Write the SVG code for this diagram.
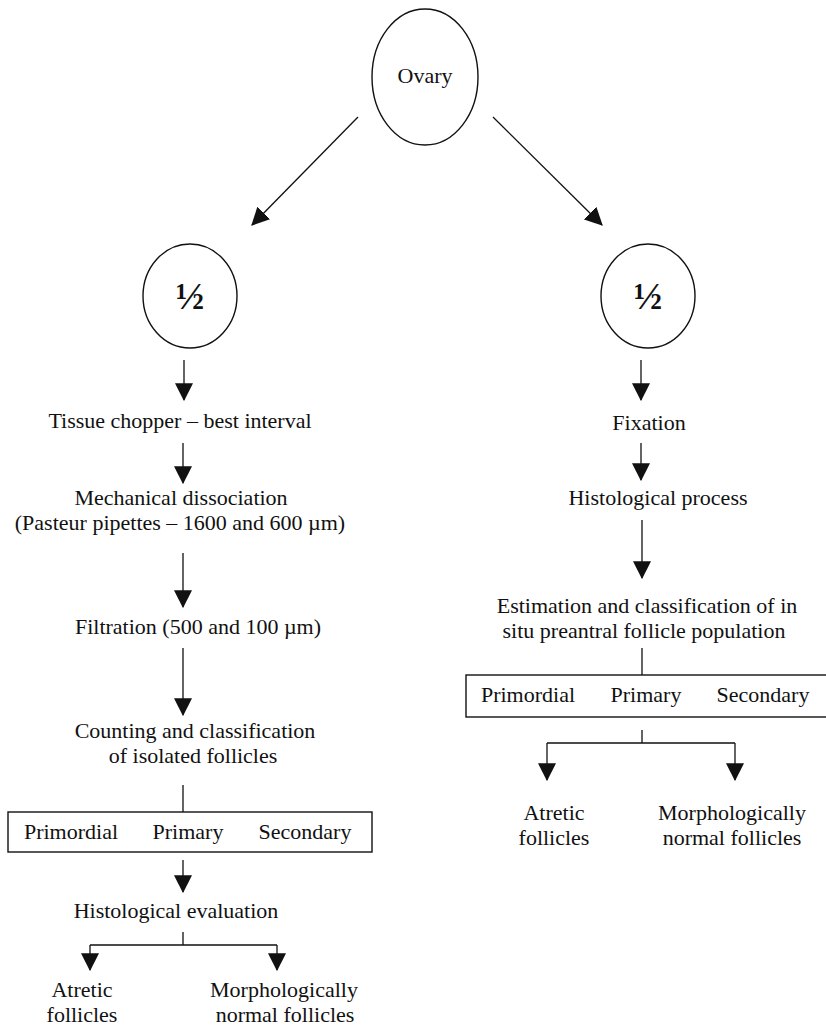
<svg xmlns="http://www.w3.org/2000/svg" width="826" height="1026" viewBox="0 0 826 1026">
<style>
text{font-family:"Liberation Serif","Times New Roman",serif;font-size:22px;fill:#111;text-anchor:middle}
.half{font-size:38px;font-weight:bold}
.shape{fill:none;stroke:#111;stroke-width:1.4}
.c line,.c path{fill:none;stroke:#111;stroke-width:1.3}
</style>
<defs>
<marker id="ah" markerUnits="userSpaceOnUse" markerWidth="18" markerHeight="18" viewBox="0 0 16 16" refX="15" refY="8" orient="auto">
<path d="M0,0 L16,8 L0,16 Z" fill="#111"/>
</marker>
</defs>
<rect width="826" height="1026" fill="#fff"/>
<g id="ovary"><ellipse class="shape" cx="425" cy="77" rx="53" ry="68"/><text x="425" y="83">Ovary</text></g>
<g id="half-left"><ellipse class="shape" cx="190" cy="296" rx="47" ry="52"/><text class="half" x="190" y="309">½</text></g>
<g id="half-right"><ellipse class="shape" cx="648" cy="296" rx="47" ry="52"/><text class="half" x="648" y="309">½</text></g>
<g id="chopper"><text x="180" y="428">Tissue chopper – best interval</text></g>
<g id="mech"><text x="181" y="505">Mechanical dissociation</text><text x="180" y="530">(Pasteur pipettes – 1600 and 600 µm)</text></g>
<g id="filtration"><text x="198" y="634">Filtration (500 and 100 µm)</text></g>
<g id="counting"><text x="195" y="738">Counting and classification</text><text x="193" y="763">of isolated follicles</text></g>
<g id="box-left"><rect class="shape" x="8" y="812" width="364" height="40"/><text x="71" y="839">Primordial</text><text x="188" y="839">Primary</text><text x="305" y="839">Secondary</text></g>
<g id="histeval"><text x="176" y="918">Histological evaluation</text></g>
<g id="atretic-left"><text x="82" y="997">Atretic</text><text x="82" y="1022">follicles</text></g>
<g id="normal-left"><text x="284" y="997">Morphologically</text><text x="285" y="1022">normal follicles</text></g>
<g id="fixation"><text x="649" y="430">Fixation</text></g>
<g id="histproc"><text x="658" y="505">Histological process</text></g>
<g id="estimation"><text x="647" y="613">Estimation and classification of in</text><text x="644" y="638">situ preantral follicle population</text></g>
<g id="box-right"><rect class="shape" x="466" y="675" width="362" height="42"/><text x="528" y="702">Primordial</text><text x="646" y="702">Primary</text><text x="763" y="702">Secondary</text></g>
<g id="atretic-right"><text x="554" y="820">Atretic</text><text x="554" y="845">follicles</text></g>
<g id="normal-right"><text x="732" y="820">Morphologically</text><text x="732" y="845">normal follicles</text></g>
<g id="connectors" class="c">
<line x1="358" y1="117" x2="252" y2="225" marker-end="url(#ah)"/>
<line x1="493" y1="117" x2="602" y2="225" marker-end="url(#ah)"/>
<line x1="184" y1="360" x2="184" y2="400" marker-end="url(#ah)"/>
<line x1="183" y1="443" x2="183" y2="483" marker-end="url(#ah)"/>
<line x1="183" y1="553" x2="183" y2="607" marker-end="url(#ah)"/>
<line x1="183" y1="648" x2="183" y2="715" marker-end="url(#ah)"/>
<line x1="183" y1="785" x2="183" y2="812"/>
<line x1="183" y1="860" x2="183" y2="892" marker-end="url(#ah)"/>
<path d="M183,932 V945 M90,945 H277"/>
<line x1="90" y1="945" x2="90" y2="970" marker-end="url(#ah)"/>
<line x1="277" y1="945" x2="277" y2="970" marker-end="url(#ah)"/>
<line x1="641" y1="360" x2="641" y2="400" marker-end="url(#ah)"/>
<line x1="641" y1="443" x2="641" y2="480" marker-end="url(#ah)"/>
<line x1="642" y1="520" x2="642" y2="578" marker-end="url(#ah)"/>
<line x1="642" y1="648" x2="642" y2="675"/>
<path d="M642,730 V743 M547,743 H735"/>
<line x1="547" y1="743" x2="547" y2="780" marker-end="url(#ah)"/>
<line x1="735" y1="743" x2="735" y2="780" marker-end="url(#ah)"/>
</g>
</svg>
